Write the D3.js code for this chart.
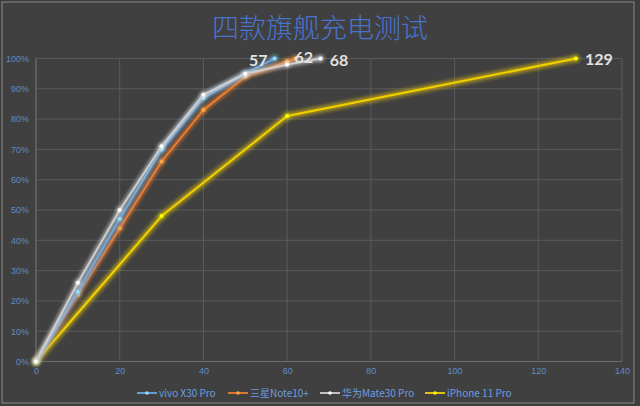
<!DOCTYPE html>
<html><head><meta charset="utf-8">
<script src="https://cdn.jsdelivr.net/npm/d3@7/dist/d3.min.js"></script>
<style>html,body{margin:0;padding:0;background:#3f3f3f;}svg{display:block;}</style>
</head><body>
<svg id="c" width="640" height="406"></svg>
<script>
const title = "四款旗舰充电测试";
const seriesNames = ["vivo X30 Pro", "三星Note10+", "华为Mate30 Pro", "iPhone 11 Pro"];
const seriesColors = ["#6aa7e0", "#ed7d31", "#d0d0d0", "#f2d000"];
const vivoX = [0, 10, 20, 30, 40, 50, 57];
const vivoY = [0, 23, 47, 70, 87, 95, 100];
const samsungX = [0, 10, 20, 30, 40, 50, 60, 62];
const samsungY = [0, 22, 44, 66, 83, 94, 99, 100];
const huaweiX = [0, 10, 20, 30, 40, 50, 60, 68];
const huaweiY = [0, 26, 50, 71, 88, 95, 98, 100];
const iphoneX = [0, 30, 60, 129];
const iphoneY = [0, 48, 81, 100];
const endLabels = ["57", "62", "68", "129"];
const xTicks = [0, 20, 40, 60, 80, 100, 120, 140];
const yTicks = [0, 10, 20, 30, 40, 50, 60, 70, 80, 90, 100];

const svg = d3.select("#c");
const W = 640, H = 406;
const x = d3.scaleLinear().domain([0, 140]).range([36, 622]);
const y = d3.scaleLinear().domain([0, 100]).range([361.5, 58.5]);

// background & border
svg.append("rect").attr("x", 0).attr("y", 0).attr("width", W).attr("height", H).attr("fill", "#3d3d3d");
svg.append("rect").attr("x", 2).attr("y", 2).attr("width", 632).attr("height", 401)
  .attr("fill", "#404040").attr("stroke", "#8a8a8a").attr("stroke-width", 1);

const defs = svg.append("defs");
seriesColors.forEach((c, i) => {
  const f = defs.append("filter").attr("id", "glow" + i)
    .attr("x", "-20%").attr("y", "-20%").attr("width", "140%").attr("height", "140%");
  f.append("feGaussianBlur").attr("in", "SourceGraphic").attr("stdDeviation", i === 3 ? 2.6 : 2.2).attr("result", "b");
  const mg = f.append("feMerge");
  mg.append("feMergeNode").attr("in", "b");
  mg.append("feMergeNode").attr("in", "b");
  mg.append("feMergeNode").attr("in", "SourceGraphic");
});

// grid
const g = svg.append("g");
g.selectAll(".hg").data(yTicks).join("line")
  .attr("x1", x(0)).attr("x2", x(140)).attr("y1", d => y(d)).attr("y2", d => y(d))
  .attr("stroke", "#5a5a5a").attr("stroke-width", 1);
g.selectAll(".vg").data(xTicks).join("line")
  .attr("x1", d => x(d)).attr("x2", d => x(d)).attr("y1", y(0)).attr("y2", y(100))
  .attr("stroke", "#5a5a5a").attr("stroke-width", 1);
g.append("line").attr("x1", x(0)).attr("x2", x(0)).attr("y1", y(0)).attr("y2", y(100))
  .attr("stroke", "#6e6e6e");
g.append("line").attr("x1", x(0)).attr("x2", x(140)).attr("y1", y(0)).attr("y2", y(0))
  .attr("stroke", "#6e6e6e");

// axes
const yAxis = d3.axisLeft(y).tickValues(yTicks).tickFormat(d => d + "%").tickSize(0).tickPadding(7);
const xAxis = d3.axisBottom(x).tickValues(xTicks).tickFormat(d3.format("d")).tickSize(0).tickPadding(6);
const ya = svg.append("g").attr("transform", `translate(${x(0)},0)`).call(yAxis);
const xa = svg.append("g").attr("transform", `translate(0,${y(0)})`).call(xAxis);
[ya, xa].forEach(a => {
  a.select(".domain").remove();
  a.selectAll("text").attr("fill", "#5f8cc8").attr("font-size", 9)
    .attr("font-family", "Liberation Sans, Arial, sans-serif");
});

// title
svg.append("text").attr("x", 320).attr("y", 38).attr("text-anchor", "middle")
  .attr("font-family", "Noto Sans CJK SC").attr("font-size", 27).attr("font-weight", 300)
  .attr("fill", "#4a74cc").text(title);

// series
const series = [
  {xs: vivoX, ys: vivoY}, {xs: samsungX, ys: samsungY},
  {xs: huaweiX, ys: huaweiY}, {xs: iphoneX, ys: iphoneY}
];
const line = d3.line().x(d => x(d[0])).y(d => y(d[1]));
const drawOrder = [3, 1, 0, 2];
drawOrder.forEach(i => {
  const s = series[i];
  const pts = s.xs.map((v, k) => [v, s.ys[k]]);
  const sg = svg.append("g").attr("filter", `url(#glow${i})`);
  sg.append("path").datum(pts).attr("d", line).attr("fill", "none")
    .attr("stroke", seriesColors[i]).attr("stroke-width", i === 3 ? 2 : 1.8)
    .attr("stroke-linejoin", "round");
  sg.selectAll("circle").data(pts).join("circle")
    .attr("cx", d => x(d[0])).attr("cy", d => y(d[1])).attr("r", 2)
    .attr("fill", d3.color(seriesColors[i]).brighter(0.8)).attr("stroke", "none");
});

// end labels
const labelPos = [
  {anchor: "end", dx: -7, dy: 7.5}, {anchor: "start", dx: -1, dy: 4.5},
  {anchor: "start", dx: 9, dy: 7.5}, {anchor: "start", dx: 9, dy: 6.5}
];
series.forEach((s, i) => {
  const n = s.xs.length - 1;
  svg.append("text").attr("x", x(s.xs[n]) + labelPos[i].dx).attr("y", y(s.ys[n]) + labelPos[i].dy)
    .attr("text-anchor", labelPos[i].anchor)
    .attr("font-family", "Lato, Open Sans, sans-serif").attr("font-size", 16).attr("font-weight", 700)
    .attr("fill", "#e2e2e2").text(endLabels[i]);
});

// legend
const legendX = [137, 228, 320, 425];
const ly = 393;
seriesNames.forEach((nm, i) => {
  const lg = svg.append("g").attr("transform", `translate(${legendX[i]},${ly})`);
  lg.append("line").attr("x1", 0).attr("x2", 20).attr("y1", 0).attr("y2", 0)
    .attr("stroke", seriesColors[i]).attr("stroke-width", 1.8);
  lg.append("circle").attr("cx", 10).attr("cy", 0).attr("r", 1.8)
    .attr("fill", d3.color(seriesColors[i]).brighter(0.8));
  lg.append("text").attr("x", 22).attr("y", 3.5)
    .attr("font-family", "Noto Sans CJK SC").attr("font-size", 10)
    .attr("fill", "#6a9ee0").text(nm);
});
</script>
</body></html>
